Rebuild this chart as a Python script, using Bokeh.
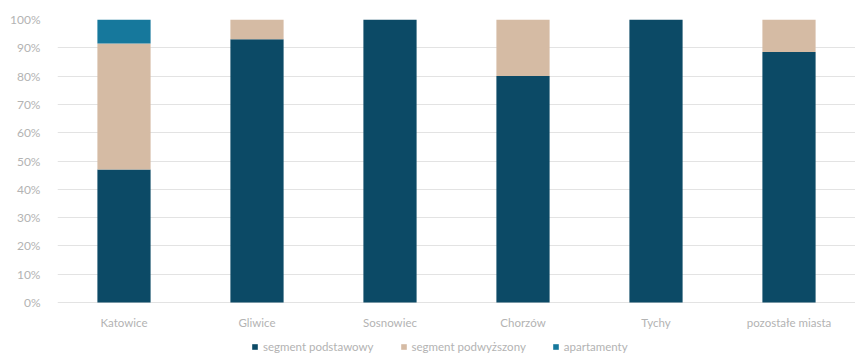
from bokeh.plotting import figure
from bokeh.models import Range1d, FactorRange, Legend, LegendItem, NumeralTickFormatter, FixedTicker, ColumnDataSource
from bokeh.core.properties import value
from bokeh.embed import file_html
from bokeh.resources import INLINE

cities = ["Katowice", "Gliwice", "Sosnowiec", "Chorzów", "Tychy", "pozostałe miasta"]
podstawowy = [0.47, 0.93, 1.00, 0.80, 1.00, 0.885]
podwyzszony = [0.445, 0.07, 0.00, 0.20, 0.00, 0.115]
apartamenty = [0.085, 0.00, 0.00, 0.00, 0.00, 0.00]
series = ["segment podstawowy", "segment podwyższony", "apartamenty"]
colors = ["#0c4a66", "#d5bba4", "#16789c"]
yticks = [i / 10 for i in range(11)]

TEXT = "#b3b3b3"
FONT = "Lato"

src = ColumnDataSource(dict(x=cities, a=podstawowy, b=podwyzszony, c=apartamenty))

# frame extends below 0% to host category labels and legend (283 px = 100%)
p = figure(x_range=FactorRange(*cities, range_padding=0), y_range=Range1d(-51 / 283, 1),
           frame_width=798, frame_height=334, output_backend="svg", toolbar_location=None,
           min_border_left=57, min_border_right=0, min_border_top=19, min_border_bottom=0)

rs = p.vbar_stack(["a", "b", "c"], x="x", width=0.4, color=colors, source=src, line_width=0)

# category labels under the 0% line
p.text(x=cities, y=[-20 / 283] * len(cities), text=cities, text_align="center",
       text_baseline="middle", text_color=TEXT, text_font=value(FONT), text_font_size="11.5px")

p.xaxis.visible = False
p.yaxis.ticker = FixedTicker(ticks=yticks)
p.yaxis.formatter = NumeralTickFormatter(format="0%")
p.yaxis.axis_line_color = None
p.yaxis.major_tick_line_color = None
p.yaxis.minor_tick_line_color = None
p.yaxis.major_label_text_color = TEXT
p.yaxis.major_label_text_font = FONT
p.yaxis.major_label_text_font_size = "12px"
p.yaxis.major_label_standoff = 11
p.xgrid.grid_line_color = None
p.ygrid.grid_line_color = "#e3e3e3"
p.outline_line_color = None

legend = Legend(items=[LegendItem(label=s, renderers=[r]) for s, r in zip(series, rs)],
                orientation="horizontal", location=(194, 0),
                label_text_font=FONT, label_text_font_size="11.5px", label_text_color=TEXT,
                glyph_width=7, glyph_height=7, spacing=26, padding=0, margin=0,
                label_standoff=5, border_line_color=None, background_fill_alpha=0,
                label_height=9)
p.add_layout(legend)

open("out.html", "w").write(file_html(p, INLINE))
